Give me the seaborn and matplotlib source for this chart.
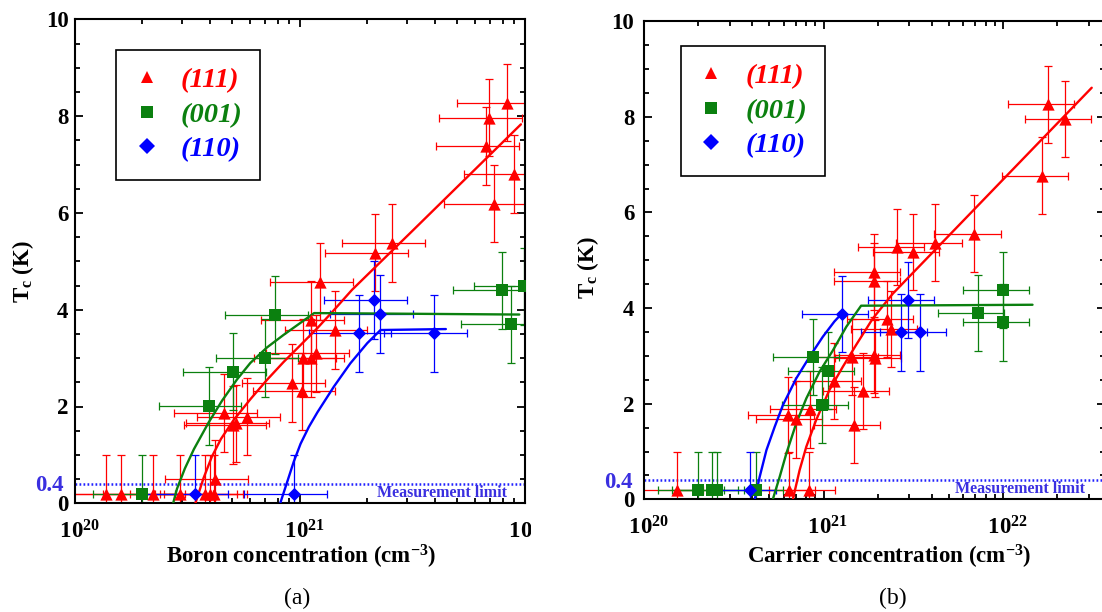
import numpy as np
import pandas as pd
import matplotlib
matplotlib.use("Agg")
import matplotlib.pyplot as plt
from matplotlib.lines import Line2D
from matplotlib.patches import Rectangle
from matplotlib.ticker import LogLocator, FuncFormatter, MultipleLocator, FixedLocator, NullFormatter
import seaborn as sns

# ---------------- (a) Tc versus boron concentration ----------------
a111_n = [1.38e20, 1.61e20, 2.22e20, 2.94e20, 3.78e20, 4.01e20, 4.17e20, 4.22e20,
          4.62e20, 5.08e20, 5.22e20, 5.83e20, 9.25e20, 1.03e21, 1.04e21, 1.12e21,
          1.18e21, 1.12e21, 1.43e21, 1.23e21, 2.16e21, 2.58e21, 6.73e21, 6.98e21,
          8.36e21, 8.97e21, 7.31e21]
a111_tc = [0.2, 0.2, 0.2, 0.2, 0.2, 0.2, 0.2, 0.5,
           1.87, 1.62, 1.65, 1.79, 2.49, 2.31, 3.0, 3.0,
           3.10, 3.79, 3.58, 4.58, 5.18, 5.38, 7.38, 7.97,
           8.28, 6.80, 6.19]
a001_n = [2.00e20, 3.94e20, 5.04e20, 7.05e20, 7.80e20, 7.98e21, 9.93e21, 8.67e21]
a001_tc = [0.2, 2.01, 2.72, 3.00, 3.89, 4.40, 4.48, 3.70]
a110_n = [3.44e20, 9.42e20, 1.83e21, 2.14e21, 2.28e21, 3.96e21]
a110_tc = [0.2, 0.2, 3.51, 4.20, 3.91, 3.51]

# guide curves of panel (a)
a111_fit_n = [3.44e20, 3.74e20, 4.07e20, 4.47e20, 5.09e20, 6.04e20, 7.16e20,
              8.49e20, 1.01e21, 1.20e21, 1.42e21, 1.71e21, 3.16e21, 5.62e21,
              9.64e21]
a111_fit_tc = [0.0, 0.52, 0.96, 1.33, 1.72, 2.15, 2.55, 2.92, 3.27, 3.62, 3.99,
               4.41, 5.62, 6.76, 7.83]
a001_fit_n = [2.74e20, 2.85e20, 3.09e20, 3.39e20, 3.94e20, 4.52e20, 5.27e20,
              6.04e20, 7.16e20, 8.49e20, 1.01e21, 1.16e21, 9.48e21]
a001_fit_tc = [0.0, 0.30, 0.72, 1.12, 1.67, 2.12, 2.56, 2.90, 3.22, 3.48, 3.73,
               3.93, 3.90]
a110_fit_n = [8.20e20, 8.79e20, 9.42e20, 1.01e21, 1.10e21, 1.20e21, 1.42e21,
              1.68e21, 2.00e21, 2.29e21, 4.47e21]
a110_fit_tc = [0.0, 0.43, 0.86, 1.23, 1.58, 1.88, 2.41, 2.89, 3.31, 3.58, 3.60]

# ---------------- (b) Tc versus carrier concentration ----------------
b111_n = [1.52e20, 6.41e20, 8.26e20, 6.34e20, 7.05e20, 8.43e20, 1.15e21, 1.47e21,
          1.44e21, 1.65e21, 1.90e21, 1.93e21, 2.25e21, 2.38e21, 1.90e21, 1.90e21,
          2.58e21, 3.16e21, 4.20e21, 6.92e21, 1.65e22, 1.77e22, 2.21e22]
b111_tc = [0.2, 0.2, 0.2, 1.76, 1.67, 1.88, 2.48, 1.55,
           2.98, 2.27, 3.02, 2.95, 3.77, 3.56, 4.76, 4.57,
           5.28, 5.17, 5.37, 5.56, 6.77, 8.26, 7.96]
b001_n = [2.00e20, 2.39e20, 2.56e20, 4.23e20, 8.73e20, 1.06e21, 9.84e20,
          9.95e21, 7.24e21, 9.95e21]
b001_tc = [0.2, 0.2, 0.2, 0.2, 2.98, 2.69, 1.97, 4.38, 3.90, 3.70]
b110_n = [3.88e20, 1.26e21, 2.71e21, 2.96e21, 3.44e21]
b110_tc = [0.2, 3.88, 3.49, 4.17, 3.49]

# guide curves of panel (b)
b111_fit_n = [6.75e20, 7.36e20, 8.02e20, 9.10e20, 1.08e21, 1.28e21, 1.52e21,
              1.88e21, 2.43e21, 3.12e22]
b111_fit_tc = [0.0, 0.61, 1.10, 1.66, 2.29, 2.77, 3.23, 3.78, 4.30, 8.61]
b001_fit_n = [5.22e20, 5.70e20, 6.21e20, 7.05e20, 8.02e20, 9.51e20, 1.13e21,
              1.34e21, 1.62e21, 1.46e22]
b001_fit_tc = [0.0, 0.47, 0.96, 1.59, 2.11, 2.67, 3.12, 3.61, 4.05, 4.07]
b110_fit_n = [4.14e20, 4.41e20, 4.81e20, 5.35e20, 5.94e20, 7.05e20, 8.36e20,
              9.91e20, 1.15e21, 1.26e21]
b110_fit_tc = [0.0, 0.47, 1.03, 1.52, 1.97, 2.53, 2.98, 3.40, 3.72, 3.88]

# uncertainties: relative error on concentration, absolute error on Tc (K)
conc_rel_err = 0.4
tc_err = 0.8
meas_limit = 0.4

orientations = ["(111)", "(001)", "(110)"]

RED, GREEN, BLUE = "#ff0000", "#0b800f", "#0000ff"
LIMIT_BLUE = "#2020ff"
TEXT_BLUE = "#3a2fe0"

sns.set_theme(style="ticks")
plt.rcParams.update({
    "font.family": ["Liberation Serif", "DejaVu Serif"],
    "font.weight": "bold",
    "mathtext.fontset": "custom",
    "mathtext.rm": "Liberation Serif:bold",
    "mathtext.bf": "Liberation Serif:bold",
    "mathtext.it": "Liberation Serif:bold:italic",
    "axes.edgecolor": "black",
    "axes.linewidth": 1.5,
    "xtick.color": "black",
    "ytick.color": "black",
    "text.color": "black",
    "axes.labelcolor": "black",
})

W, H = 1102, 612
fig = plt.figure(figsize=(W / 100, H / 100), dpi=100)


def fpos(x0, y_bottom, x1, y_top):
    return [x0 / W, (H - y_bottom) / H, (x1 - x0) / W, (y_bottom - y_top) / H]


ax_a = fig.add_axes(fpos(74.7, 503.3, 524.5, 19.3))
ax_b = fig.add_axes(fpos(644.0, 499.3, 1105.0, 21.3))

styles = [(RED, "^", 78), (GREEN, "s", 66), (BLUE, "D", 46)]
TICK_FS = 16.5


def draw_panel(ax, points, curves, xmax, ylab_pad, leg_anchor, meas_xr):
    # error bars first, guide curves above them, symbols on top
    for (n, tc), (col, mk, s) in zip(points, styles):
        n = np.asarray(n)
        tc = np.asarray(tc)
        ax.errorbar(n, tc, xerr=conc_rel_err * n, yerr=tc_err, fmt="none",
                    ecolor=col, elinewidth=0.9, capsize=2.6, capthick=0.9,
                    zorder=2)
    for (cn, ctc), (col, mk, s) in zip(curves, styles):
        sns.lineplot(x=cn, y=ctc, sort=False, estimator=None, color=col,
                     lw=1.7, ax=ax, zorder=3, legend=False)
    for (n, tc), (col, mk, s), lab in zip(points, styles, orientations):
        df = pd.DataFrame({"n": n, "tc": tc})
        sns.scatterplot(data=df, x="n", y="tc", marker=mk, s=s, color=col,
                        edgecolor=col, linewidth=0, ax=ax, zorder=4,
                        legend=False)

    ax.axhline(meas_limit, color=LIMIT_BLUE, lw=1.8, ls=(0, (0.7, 0.9)),
               zorder=1.5)
    ax.text(meas_xr, 0.21, "Measurement limit", transform=ax.get_yaxis_transform(),
            ha="right", va="center", color=TEXT_BLUE, fontsize=11.5,
            fontweight="bold", zorder=5)

    ax.set_xscale("log")
    ax.set_xlim(1e20, xmax)
    ax.set_ylim(0, 10)
    ax.xaxis.set_major_locator(LogLocator(base=10, numticks=10))
    ax.xaxis.set_minor_locator(LogLocator(base=10, subs=np.arange(2, 10), numticks=30))
    ax.xaxis.set_minor_formatter(NullFormatter())
    ax.xaxis.set_major_formatter(
        FuncFormatter(lambda v, p: r"$\mathbf{\;\;10^{%d}}$" % int(round(np.log10(v)))))
    ax.yaxis.set_major_locator(FixedLocator([0, 2, 4, 6, 8, 10]))
    ax.yaxis.set_minor_locator(MultipleLocator(0.5))
    ax.yaxis.set_major_formatter(FuncFormatter(lambda v, p: "%g" % v))
    ax.tick_params(which="both", direction="in", top=True, right=True,
                   width=1.3, labelsize=TICK_FS)
    ax.tick_params(which="major", length=6)
    ax.tick_params(which="minor", length=3.5)
    ax.tick_params(axis="x", which="major", pad=12)
    ax.tick_params(axis="y", which="major", pad=ylab_pad)
    ax.set_xlabel("")
    ax.set_ylabel("")
    for sp in ax.spines.values():
        sp.set_linewidth(1.5)
        sp.set_color("black")

    ax.text(-0.024, 0.36, "0.4", transform=ax.get_yaxis_transform(),
            ha="right", va="center", color=TEXT_BLUE, fontsize=TICK_FS,
            fontweight="bold", clip_on=False)

    handles = [Line2D([], [], ls="none", marker=mk, ms=8.5, color=col,
                      markeredgewidth=0) for col, mk, s in styles]
    leg = ax.legend(handles, orientations, loc="upper left",
                    bbox_to_anchor=leg_anchor, borderaxespad=0,
                    frameon=True, fancybox=False, framealpha=1,
                    edgecolor="black",
                    prop=dict(family="Liberation Serif", style="italic",
                              weight="bold", size=20.5),
                    labelcolor=[RED, GREEN, BLUE], handlelength=0.9,
                    handletextpad=0.75, labelspacing=0.3, borderpad=0.62)
    leg.get_frame().set_linewidth(1.2)
    leg.set_zorder(6)


draw_panel(ax_a,
           [(a111_n, a111_tc), (a001_n, a001_tc), (a110_n, a110_tc)],
           [(a111_fit_n, a111_fit_tc), (a001_fit_n, a001_fit_tc),
            (a110_fit_n, a110_fit_tc)],
           1e22, 4.5, (0.092, 0.937), 0.961)
draw_panel(ax_b,
           [(b111_n, b111_tc), (b001_n, b001_tc), (b110_n, b110_tc)],
           [(b111_fit_n, b111_fit_tc), (b001_fit_n, b001_fit_tc),
            (b110_fit_n, b110_fit_tc)],
           3.7e22, 7.0, (0.080, 0.949), 0.957)


def ftext(x, y, s, **kw):
    fig.text(x / W, 1 - y / H, s, ha="center", va="center", **kw)


ftext(301.5, 557, r"Boron concentration (cm$^{\mathbf{-3}}$)", fontsize=16.5,
      fontweight="bold")
ftext(889, 557, r"Carrier concentration (cm$^{\mathbf{-3}}$)", fontsize=16.5,
      fontweight="bold")
ftext(23, 272, r"$\mathbf{T_c}$ (K)", fontsize=16.5, fontweight="bold", rotation=90)
ftext(588, 268, r"$\mathbf{T_c}$ (K)", fontsize=16.5, fontweight="bold", rotation=90)
ftext(297, 598, "(a)", fontsize=17, fontweight="normal")
ftext(893, 598, "(b)", fontsize=17, fontweight="normal")

# blank gutter between the two panels
fig.add_artist(Rectangle((531 / W, 0), (556 - 531) / W, 1, transform=fig.transFigure,
                         facecolor="white", edgecolor="none", zorder=100))

fig.savefig("out.png", dpi=100)
